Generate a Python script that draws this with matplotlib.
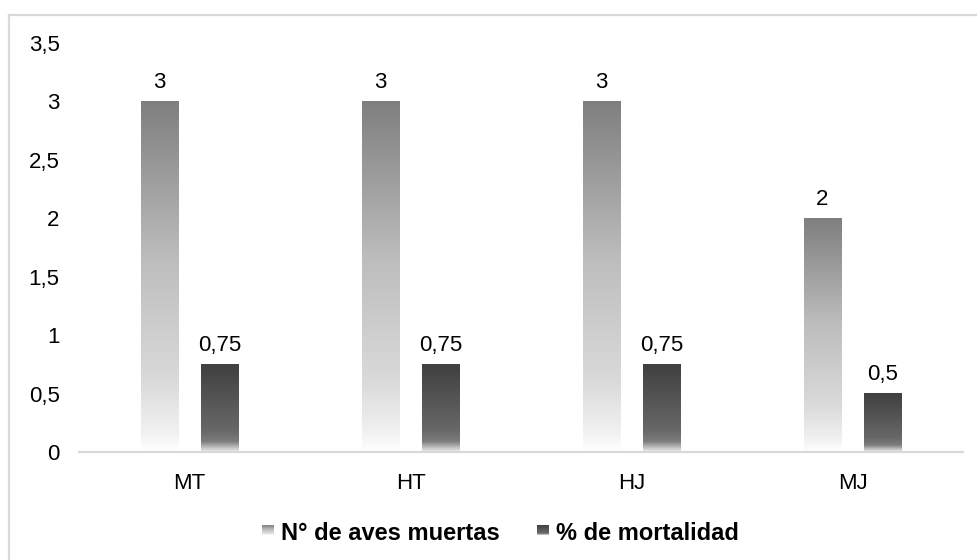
import numpy as np
import matplotlib
matplotlib.use("Agg")
import matplotlib.pyplot as plt
from matplotlib.colors import LinearSegmentedColormap
from matplotlib.lines import Line2D

plt.rcParams['font.family'] = ['Liberation Sans', 'DejaVu Sans']

categories = ["MT", "HT", "HJ", "MJ"]
aves_muertas = [3, 3, 3, 2]
mortalidad = [0.75, 0.75, 0.75, 0.5]
series_names = ["N° de aves muertas", "% de mortalidad"]
y_ticks = [0, 0.5, 1, 1.5, 2, 2.5, 3, 3.5]

def fmt(v):
    s = f"{v:g}"
    return s.replace(".", ",")

# vertical gradients: value 0 = top of bar, 1 = bottom
cmap_light = LinearSegmentedColormap.from_list(
    "light", [(0.0, "#7f7f7f"), (0.45, "#bdbdbd"), (0.8, "#dadada"),
              (0.95, "#f2f2f2"), (1.0, "#ffffff")])
cmap_dark = LinearSegmentedColormap.from_list(
    "dark", [(0.0, "#404040"), (0.75, "#676767"), (0.88, "#7c7c7c"),
             (0.94, "#b5b5b5"), (1.0, "#f0f0f0")])

FS = 16

fig = plt.figure(figsize=(9.77, 5.6), dpi=100)
W, H = 977, 560
ax = fig.add_axes([79 / W, (H - 452) / H, 884 / W, (452 - 43) / H])

x = np.arange(len(categories))
width = 0.168
offset = 0.136
grad = np.linspace(0, 1, 256).reshape(-1, 1)

def gradient_bars(xs, vals, cmap):
    for xi, v in zip(xs, vals):
        ax.imshow(grad, cmap=cmap, aspect="auto", interpolation="bilinear",
                  extent=[xi - width / 2, xi + width / 2, 0, v], zorder=2)
        ax.annotate(fmt(v), (xi, v), xytext=(0, 6), textcoords="offset points",
                    ha="center", va="bottom", fontsize=FS, color="#000000")

gradient_bars(x - offset, aves_muertas, cmap_light)
gradient_bars(x + offset, mortalidad, cmap_dark)

ax.set_xlim(-0.5, len(categories) - 0.5)
ax.set_ylim(0, 3.5)
ax.set_xticks(x)
ax.set_xticklabels(categories, fontsize=FS)
ax.set_yticks(y_ticks)
ax.set_yticklabels([fmt(t) for t in y_ticks], fontsize=FS)
ax.tick_params(axis="both", length=0)
ax.tick_params(axis="x", pad=15)
ax.tick_params(axis="y", pad=14)
for s in ["top", "left", "right"]:
    ax.spines[s].set_visible(False)
ax.spines["bottom"].set_color("#d9d9d9")
ax.spines["bottom"].set_linewidth(1.6)
ax.spines["bottom"].set_zorder(3)

# legend built from small gradient swatches and bold labels
legend_items = [(262, cmap_light), (537, cmap_dark)]
for (lx, cm), name in zip(legend_items, series_names):
    sw = fig.add_axes([lx / W, (H - 535) / H, 12 / W, 10 / H])
    sw.imshow(grad, cmap=cm, aspect="auto", interpolation="bilinear")
    sw.axis("off")
    fig.text((lx + 19) / W, (H - 533) / H, name, fontsize=17, fontweight="bold",
             ha="left", va="center")

# chart frame
frame_color = "#d9d9d9"
fig.add_artist(Line2D([9 / W, 1.05], [(H - 15) / H] * 2, color=frame_color, lw=1.6))
fig.add_artist(Line2D([9 / W] * 2, [(H - 15) / H, -0.05], color=frame_color, lw=1.6))

fig.savefig("out.png", dpi=100, facecolor="white")
